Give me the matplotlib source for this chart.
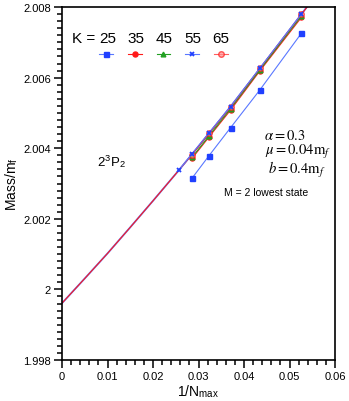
import matplotlib
matplotlib.use("Agg")
import matplotlib.pyplot as plt
from matplotlib.ticker import MultipleLocator, FormatStrFormatter

plt.rcParams["font.family"] = ["Liberation Sans", "DejaVu Sans"]
plt.rcParams["mathtext.fontset"] = "stix"

# 1/Nmax for Nmax = 35, 31, 27, 23, 19
inv_nmax = [1 / 35, 1 / 31, 1 / 27, 1 / 23, 1 / 19]
inv_nmax_k55 = [1 / 39, 1 / 35, 1 / 31, 1 / 27, 1 / 23, 1 / 19]

k_values = ["25", "35", "45", "55", "65"]
mass_k25 = [2.00315, 2.00378, 2.00458, 2.00565, 2.00726]
mass_k35 = [2.00371, 2.00431, 2.00508, 2.00619, 2.00771]
mass_k45 = [2.00374, 2.00434, 2.00512, 2.00622, 2.00775]
mass_k55 = [2.00337, 2.00384, 2.00443, 2.00518, 2.00627, 2.00780]
mass_k65 = [2.00382, 2.00442, 2.00516, 2.00626, 2.00779]

# extrapolation curves to 1/Nmax -> 0
extrap_x = [0, 0.005, 0.01, 0.015, 0.02, 0.02564, 0.02857, 0.03226,
            0.03704, 0.04348, 0.05263, 0.0545]
extrap_k55 = [1.99961, 2.00031, 2.00102, 2.00176, 2.00251, 2.00337,
              2.00383, 2.00441, 2.00518, 2.00625, 2.00780, 2.00812]
extrap_k65 = [1.99961, 2.00031, 2.00102, 2.00176, 2.00251, 2.00337,
              2.00382, 2.00441, 2.00517, 2.00625, 2.00779, 2.00811]

blue = "#2040ff"
blue_line = "#5a78ff"
red = "#ff1a1a"
green = "#22a022"

fig = plt.figure(figsize=(3.49, 4.02), dpi=100)
ax = fig.add_axes([0.1777, 0.102, 0.7822, 0.878])

ax.plot(extrap_x, extrap_k55, color=blue_line, lw=1.3)
ax.plot(extrap_x, extrap_k65, color=red, lw=0.8)

h25, = ax.plot(inv_nmax, mass_k25, color=blue_line, lw=0.8,
               marker="s", ms=3.6, mfc=blue, mec=blue)
h35, = ax.plot(inv_nmax, mass_k35, color=red, lw=0.8,
               marker="o", ms=3.6, mfc=red, mec=red)
h45, = ax.plot(inv_nmax, mass_k45, color=green, lw=0.8,
               marker="^", ms=3.4, mfc=green, mec=green)
h65, = ax.plot(inv_nmax, mass_k65, color=red, lw=0.8, alpha=0.7,
               marker="o", ms=4.0, mfc="#ff9090", mec=red)
h55, = ax.plot(inv_nmax_k55, mass_k55, color=blue_line, lw=0.8,
               marker="x", ms=3.4, mew=1.3, mec=blue)

ax.set_xlim(0, 0.06)
ax.set_ylim(1.998, 2.008)
ax.xaxis.set_major_locator(MultipleLocator(0.01))
ax.xaxis.set_minor_locator(MultipleLocator(0.002))
ax.yaxis.set_major_locator(MultipleLocator(0.002))
ax.yaxis.set_minor_locator(MultipleLocator(0.0002))
ax.xaxis.set_major_formatter(FormatStrFormatter("%g"))
ax.yaxis.set_major_formatter(FormatStrFormatter("%g"))
ax.tick_params(which="major", direction="out", length=6, width=1.1,
               labelsize=8, pad=2)
ax.tick_params(which="minor", direction="out", length=3.5, width=1.1)
for s in ax.spines.values():
    s.set_linewidth(1.2)

ax.set_xlabel("1/N$_{\\mathregular{max}}$", fontsize=10, labelpad=1)
ax.set_ylabel("Mass/m$_{\\mathregular{f}}$", fontsize=10, labelpad=2)

# legend: "K =" label, numbers above, markers below
ax.text(0.121, 0.912, "K =", transform=ax.transAxes, fontsize=11,
        ha="right", va="center")
for xpos, k in zip([0.167, 0.271, 0.375, 0.479, 0.582], k_values):
    ax.text(xpos, 0.912, k, transform=ax.transAxes, fontsize=11,
            ha="center", va="center")
ax.legend([h25, h35, h45, h55, h65], [""] * 5, ncol=5, frameon=False,
          handlelength=1.0, handletextpad=0.0, columnspacing=1.07,
          borderpad=0, borderaxespad=0, fontsize=10,
          loc="center left", bbox_to_anchor=(0.1355, 0.864))

ax.text(0.183, 0.564, "2$^{\\mathregular{3}}$P$_{\\mathregular{2}}$",
        transform=ax.transAxes, fontsize=9.5, ha="center", va="center")
ax.text(0.74, 0.638, "$\\alpha = 0.3$", transform=ax.transAxes,
        fontsize=10.5, ha="left", va="center")
ax.text(0.742, 0.592, "$\\mu = 0.04\\mathrm{m}_f$", transform=ax.transAxes,
        fontsize=10.5, ha="left", va="center")
ax.text(0.756, 0.542, "$b = 0.4\\mathrm{m}_f$", transform=ax.transAxes,
        fontsize=10.5, ha="left", va="center")
ax.text(0.595, 0.475, "M = 2 lowest state", transform=ax.transAxes,
        fontsize=7.5, ha="left", va="center")

fig.savefig("out.png", dpi=100)
